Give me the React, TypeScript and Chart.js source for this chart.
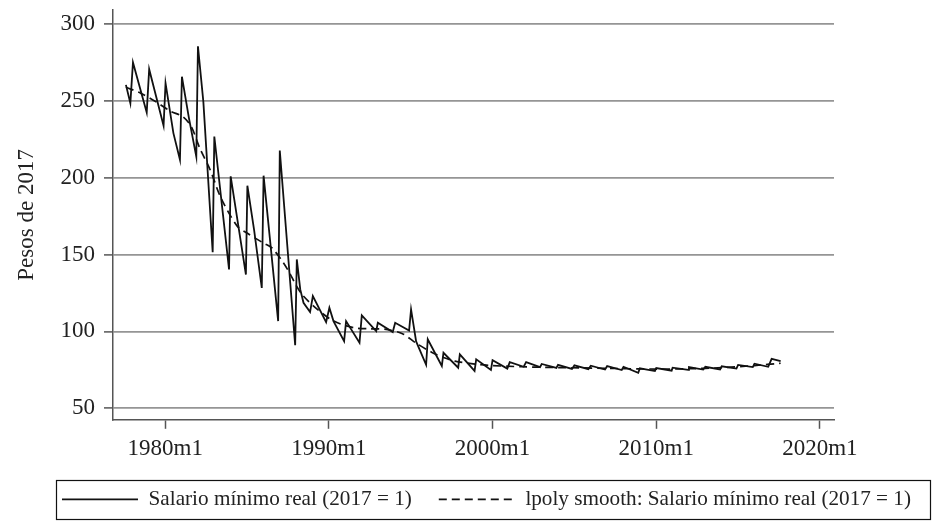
import React, { useEffect, useRef } from 'react';
import Chart from 'chart.js/auto';

// salario mínimo real, años decimales (1980.0 = 1980m1)
const SALARIO_T = [
  1977.6, 1977.87, 1978.03, 1978.87, 1979.02, 1979.9, 1980.02, 1980.5, 1980.9,
  1981.02, 1981.45, 1981.9, 1982.0, 1982.33, 1982.9, 1983.0, 1983.9, 1984.0,
  1984.93, 1985.02, 1985.43, 1985.9, 1986.01, 1986.9, 1987.0, 1987.94, 1988.04,
  1988.25, 1988.45, 1988.85, 1989.02, 1989.83, 1990.03, 1990.28, 1990.93, 1991.05,
  1991.87, 1992.01, 1992.89, 1992.99, 1993.9, 1994.05, 1994.9, 1995.02, 1995.33,
  1995.94, 1996.04, 1996.9, 1997.0, 1997.9, 1998.0, 1998.9, 1999.0, 1999.9,
  2000.0, 2000.9, 2001.05, 2001.9, 2002.05, 2002.9, 2003.0, 2003.9, 2004.0,
  2004.85, 2005.0, 2005.85, 2006.0, 2006.87, 2007.0, 2007.89, 2008.0, 2008.9,
  2009.0, 2009.92, 2010.0, 2010.94, 2011.0, 2011.96, 2012.0, 2012.87, 2013.0,
  2013.9, 2014.0, 2014.9, 2015.0, 2015.9, 2016.0, 2016.84, 2017.05, 2017.3, 2017.6,
];
const SALARIO_V = [
  260.4, 248.5, 275, 242.4, 270.6, 233.8, 261.5, 229, 211.7,
  265.7, 238.7, 213.7, 285.5, 249.5, 151.5, 226.8, 140.3, 200.9,
  137, 194.8, 166, 128.3, 201.3, 106.7, 217.7, 91, 146.8,
  127.3, 118.6, 112.6, 123, 106, 115.4, 106.7, 93.7, 106.7,
  92.6, 110.4, 100.2, 105.6, 99.6, 105.6, 100.6, 114.3, 93.5,
  78.3, 94.9, 77.5, 86.1, 76.4, 85.1, 74.3, 81.8, 74.9,
  81.3, 75.8, 80, 77, 80, 76.8, 78.8, 76.3, 78.3,
  75.6, 77.9, 75.4, 77.7, 75.2, 77.4, 74.9, 77, 73,
  76, 74.2, 76.2, 74.5, 76.4, 75, 76.8, 75.2, 77,
  75.3, 77.3, 75.8, 78.2, 76.8, 79, 77, 82.2, 81.5, 80.7,
];

// lpoly smooth
const LPOLY_T = [
  1977.6, 1978.5, 1979.5, 1980.3, 1981.1, 1981.6, 1982.1, 1982.75, 1983.4, 1984.4,
  1985.0, 1986.0, 1986.5, 1987.2, 1987.6, 1988.0, 1988.4, 1989.3, 1990.3, 1991.5,
  1992.5, 1993.5, 1994.5, 1995.3, 1996.3, 1997.0, 1997.7, 1998.7, 1999.8, 2001.8,
  2004.0, 2007.0, 2010.0, 2012.0, 2014.0, 2016.0, 2017.6,
];
const LPOLY_V = [
  258.8, 255, 249, 243.4, 239.5, 233, 219.5, 205, 187, 168.5,
  164, 157.5, 154.5, 145, 138, 130, 123.5, 114.3, 106.7, 102.4,
  101.7, 101.3, 98.5, 92.6, 86.3, 83, 80.7, 79, 77.9, 77,
  76.5, 76, 75.5, 75.7, 76.4, 77.8, 79.3,
];

const X_TICKS = [1980, 1990, 2000, 2010, 2020];
const Y_TICKS = [50, 100, 150, 200, 250, 300];
const Y_TITLE = 'Pesos de 2017';
const LABEL_SALARIO = 'Salario mínimo real (2017 = 1)';
const LABEL_LPOLY = 'lpoly smooth: Salario mínimo real (2017 = 1)';

const SERIF = '"Liberation Serif", "DejaVu Serif", serif';

// marco alrededor de la leyenda, como en Stata
const legendFrame = {
  id: 'legendFrame',
  afterDraw(chart: Chart) {
    const legend: any = chart.legend;
    const boxes = legend?.legendHitBoxes;
    if (!boxes || !boxes.length) return;
    const first = boxes[0];
    const last = boxes[boxes.length - 1];
    const ctx = chart.ctx;
    const mid = first.top + first.height / 2;
    const left = first.left - 6;
    const right = last.left + last.width + 19;
    ctx.save();
    ctx.strokeStyle = '#111';
    ctx.lineWidth = 1.2;
    ctx.strokeRect(Math.round(left) + 0.5, Math.round(mid - 19.5) + 0.5, Math.round(right - left), 39);
    ctx.restore();
  },
};

function SalarioChart(): React.JSX.Element {
  const canvasRef = useRef<HTMLCanvasElement | null>(null);

  useEffect(() => {
    if (!canvasRef.current) return;
    const chart = new Chart(canvasRef.current, {
      type: 'line',
      data: {
        datasets: [
          {
            label: LABEL_SALARIO,
            data: SALARIO_T.map((t, i) => ({ x: t, y: SALARIO_V[i] })),
            borderColor: '#111',
            backgroundColor: '#111',
            borderWidth: 1.8,
            pointRadius: 0,
            tension: 0,
            yAxisID: 'y',
          },
          {
            label: LABEL_LPOLY,
            data: LPOLY_T.map((t, i) => ({ x: t, y: LPOLY_V[i] })),
            borderColor: '#111',
            backgroundColor: '#111',
            borderWidth: 1.7,
            borderDash: [8, 5],
            pointRadius: 0,
            tension: 0.3,
            yAxisID: 'y',
          },
        ],
      },
      options: {
        animation: false,
        responsive: true,
        maintainAspectRatio: false,
        layout: { padding: { left: 34, right: 0, top: 10, bottom: 6 } },
        plugins: {
          tooltip: { enabled: false },
          legend: {
            position: 'bottom',
            labels: {
              usePointStyle: true,
              pointStyle: 'line',
              pointStyleWidth: 76,
              padding: 27,
              color: '#222',
              font: { family: SERIF, size: 21.2 },
              // con usePointStyle el trazo discontinuo no pasa solo a la leyenda
              generateLabels: (chart: Chart) => {
                const items = Chart.defaults.plugins.legend.labels.generateLabels(chart);
                items.forEach((item: any) => {
                  const ds: any = chart.data.datasets[item.datasetIndex];
                  item.lineDash = ds.borderDash || [];
                  item.lineWidth = ds.borderWidth;
                  item.strokeStyle = ds.borderColor;
                });
                return items;
              },
            },
          },
        },
        scales: {
          x: {
            type: 'linear',
            min: 1976.81,
            max: 2020.86,
            afterBuildTicks: (scale: any) => {
              scale.ticks = X_TICKS.map((v) => ({ value: v }));
            },
            afterFit: (scale: any) => {
              scale.height = 42;
              scale.paddingLeft = 0;
              scale.paddingRight = 0;
            },
            ticks: {
              callback: (v: any) => `${v}m1`,
              color: '#222',
              padding: 6,
              maxRotation: 0,
              font: { family: SERIF, size: 23 },
            },
            grid: {
              drawOnChartArea: false,
              drawTicks: true,
              tickLength: 9,
              tickColor: '#555',
              tickWidth: 1.5,
            },
            border: { display: true, color: '#555', width: 1.5 },
          },
          y: {
            type: 'linear',
            position: 'left',
            min: 42.5,
            max: 309.1,
            afterBuildTicks: (scale: any) => {
              scale.ticks = Y_TICKS.map((v) => ({ value: v }));
            },
            afterFit: (scale: any) => {
              scale.width = 79;
              scale.paddingTop = 0;
              scale.paddingBottom = 0;
            },
            ticks: {
              color: '#222',
              padding: 9,
              font: { family: SERIF, size: 23 },
            },
            grid: {
              color: '#959595',
              lineWidth: 1.8,
              tickLength: 9,
              tickColor: '#555',
              tickWidth: 1.5,
            },
            border: { display: true, color: '#555', width: 1.5 },
            title: {
              display: true,
              text: Y_TITLE,
              color: '#222',
              font: { family: SERIF, size: 23 },
              padding: { top: -21, bottom: 0 },
            },
          },
          // eje vacío a la derecha: deja el margen sin mover la leyenda
          yr: {
            type: 'linear',
            position: 'right',
            display: true,
            grid: { display: false },
            border: { display: false },
            ticks: { display: false },
            afterFit: (scale: any) => {
              scale.width = 105;
            },
          },
        },
      },
      plugins: [legendFrame],
    });
    return () => chart.destroy();
  }, []);

  return <canvas ref={canvasRef} />;
}

export default function App(): React.JSX.Element {
  return (
    <div style={{ position: 'fixed', left: 0, top: 0, width: 939, height: 526, background: '#fff' }}>
      <SalarioChart />
    </div>
  );
}
